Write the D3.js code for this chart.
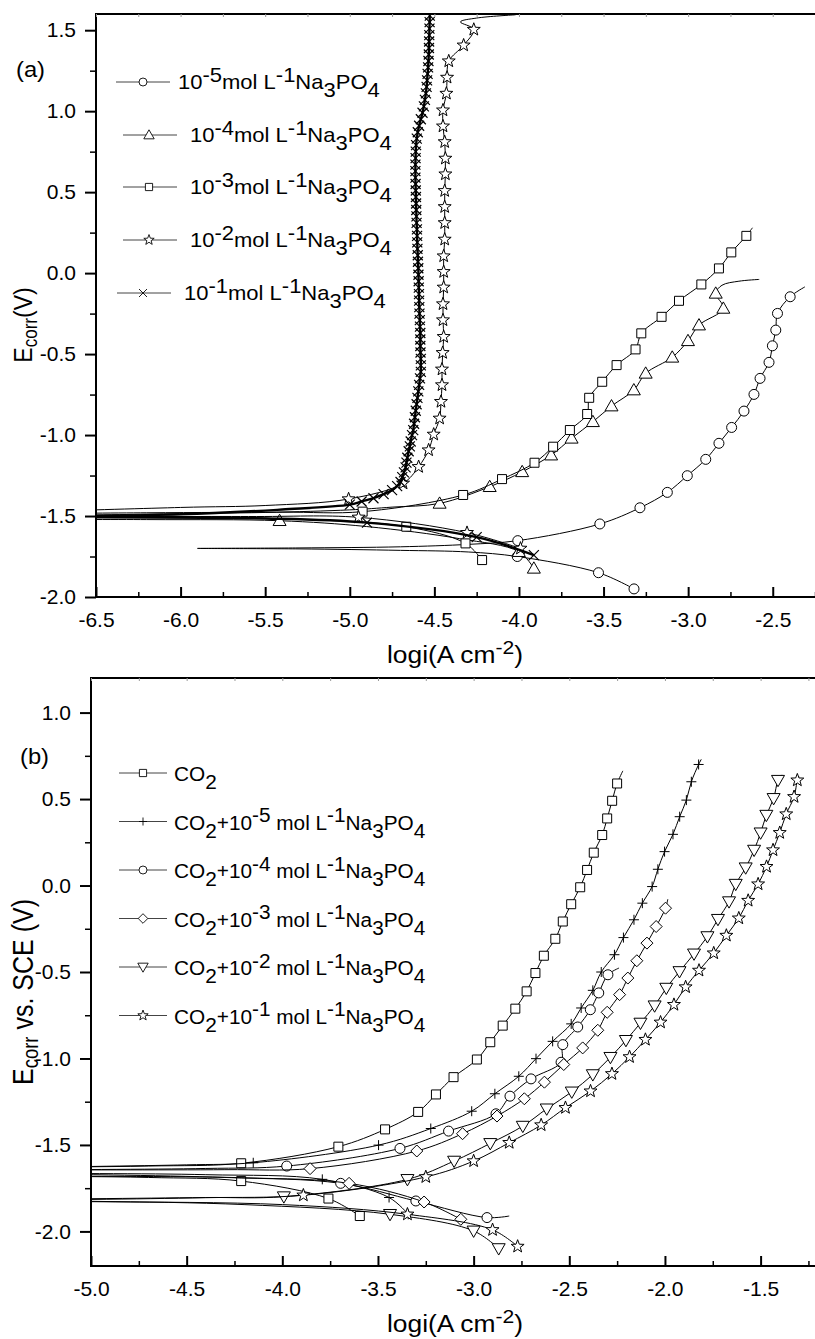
<!DOCTYPE html>
<html>
<head>
<meta charset="utf-8">
<script src="https://cdn.jsdelivr.net/npm/d3@7"></script>
<style>
  body { margin: 0; background: #fff; }
  svg { display: block; }
  text { white-space: pre; }
</style>
</head>
<body>
<svg id="chart" width="815" height="1339"></svg>
<script>
// ---------------------------------------------------------------
// Polarization curves, log i (A cm^-2) vs. potential (V).
// Each trace is a list of runs that alternate: plain line (even
// index) and line with symbols (odd index).
// ---------------------------------------------------------------

// Panel (a): Na3PO4 solutions
const aExponents = ["-5", "-4", "-3", "-2", "-1"];
const aXTicks = [-6.5, -6.0, -5.5, -5.0, -4.5, -4.0, -3.5, -3.0, -2.5];
const aYTicks = [-2.0, -1.5, -1.0, -0.5, 0.0, 0.5, 1.0, 1.5];

const aCircle = [
  [],
  [[-3.32, -1.95], [-3.53, -1.85], [-4.01, -1.75]],
  [[-4.3, -1.722], [-4.7, -1.712], [-5.3, -1.703], [-5.9, -1.70], [-5.3, -1.697], [-4.7, -1.690], [-4.3, -1.675]],
  [[-4.007, -1.652], [-3.522, -1.549], [-3.285, -1.449], [-3.123, -1.354], [-3.005, -1.251], [-2.896, -1.150],
   [-2.818, -1.051], [-2.743, -0.953], [-2.670, -0.852], [-2.611, -0.749], [-2.575, -0.650], [-2.522, -0.551],
   [-2.502, -0.449], [-2.482, -0.352], [-2.472, -0.249], [-2.397, -0.146]],
  [[-2.31, -0.085]]
];

const aTriangle = [
  [],
  [[-3.912, -1.823], [-4.001, -1.720]],
  [[-4.35, -1.64], [-4.9, -1.565]],
  [[-5.415, -1.529]],
  [[-6.2, -1.522], [-7.5, -1.52], [-6.2, -1.488], [-5.5, -1.478], [-5.0, -1.462], [-4.75, -1.445]],
  [[-4.469, -1.422], [-4.173, -1.319], [-3.981, -1.227], [-3.810, -1.124], [-3.689, -1.020], [-3.563, -0.918],
   [-3.453, -0.821], [-3.321, -0.722], [-3.251, -0.619], [-3.094, -0.520], [-3.001, -0.418], [-2.936, -0.321],
   [-2.792, -0.218], [-2.837, -0.125]],
  [[-2.80, -0.075], [-2.70, -0.05], [-2.58, -0.039]]
];

const aSquare = [
  [],
  [[-4.218, -1.772], [-4.316, -1.669], [-4.666, -1.566]],
  [[-5.3, -1.52], [-6.2, -1.50], [-7.5, -1.492], [-6.2, -1.48], [-5.4, -1.476]],
  [[-4.924, -1.473], [-4.330, -1.370], [-4.100, -1.272], [-3.908, -1.171], [-3.798, -1.072], [-3.699, -0.969],
   [-3.597, -0.870], [-3.585, -0.770], [-3.508, -0.671], [-3.423, -0.568], [-3.311, -0.471], [-3.277, -0.372],
   [-3.157, -0.270], [-3.054, -0.171], [-2.922, -0.070], [-2.818, 0.029], [-2.745, 0.128], [-2.656, 0.230]],
  [[-2.62, 0.28]]
];

const aStar = [
  [],
  [[-3.991, -1.700], [-4.307, -1.603], [-4.948, -1.508]],
  [[-5.6, -1.503], [-7.5, -1.50], [-6.0, -1.447], [-5.5, -1.435]],
  [[-5.007, -1.395], [-4.685, -1.298], [-4.593, -1.196], [-4.534, -1.093], [-4.504, -0.996], [-4.469, -0.897],
   [-4.461, -0.794], [-4.455, -0.691], [-4.455, -0.594], [-4.451, -0.492], [-4.445, -0.393], [-4.449, -0.290],
   [-4.449, -0.191], [-4.445, -0.088], [-4.445, 0.008], [-4.445, 0.105], [-4.439, 0.208], [-4.439, 0.310],
   [-4.439, 0.409], [-4.439, 0.508], [-4.435, 0.611], [-4.435, 0.708], [-4.439, 0.810], [-4.449, 0.907],
   [-4.449, 1.006], [-4.429, 1.109], [-4.425, 1.208], [-4.415, 1.309], [-4.327, 1.407], [-4.267, 1.504]],
  [[-4.346, 1.551], [-4.25, 1.575], [-4.02, 1.595]]
];

const aCross = [
  [],
  [[-3.912, -1.741], [-4.25, -1.63], [-4.898, -1.541]],
  [[-5.5, -1.515], [-7.5, -1.505], [-6.0, -1.49], [-5.4, -1.46]],
  [[-5.00, -1.43], [-4.93, -1.41], [-4.86, -1.39], [-4.80, -1.365], [-4.75, -1.34], [-4.72, -1.315],
   [-4.70, -1.29], [-4.69, -1.26], [-4.68, -1.23], [-4.67, -1.20], [-4.665, -1.17], [-4.66, -1.14],
   [-4.652, -1.10], [-4.645, -1.07], [-4.64, -1.04], [-4.632, -1.00], [-4.625, -0.97], [-4.62, -0.93],
   [-4.615, -0.89], [-4.61, -0.85], [-4.605, -0.81], [-4.60, -0.77], [-4.595, -0.73], [-4.59, -0.69],
   [-4.585, -0.65], [-4.58, -0.61], [-4.58, -0.57], [-4.58, -0.53], [-4.582, -0.49], [-4.583, -0.45],
   [-4.583, -0.41], [-4.583, -0.37], [-4.585, -0.33], [-4.586, -0.29], [-4.588, -0.25], [-4.589, -0.21],
   [-4.59, -0.17], [-4.591, -0.13], [-4.592, -0.09], [-4.593, -0.05], [-4.594, -0.01], [-4.595, 0.03],
   [-4.597, 0.07], [-4.598, 0.11], [-4.60, 0.15], [-4.601, 0.19], [-4.602, 0.23], [-4.603, 0.27],
   [-4.605, 0.31], [-4.606, 0.35], [-4.607, 0.39], [-4.608, 0.43], [-4.609, 0.47], [-4.61, 0.51],
   [-4.611, 0.55], [-4.612, 0.59], [-4.612, 0.63], [-4.612, 0.67], [-4.611, 0.71], [-4.61, 0.75],
   [-4.608, 0.79], [-4.604, 0.83], [-4.598, 0.87], [-4.59, 0.91], [-4.58, 0.95], [-4.57, 0.99],
   [-4.562, 1.03], [-4.556, 1.07], [-4.55, 1.11], [-4.546, 1.15], [-4.543, 1.19], [-4.54, 1.23],
   [-4.537, 1.27], [-4.535, 1.31], [-4.533, 1.35], [-4.532, 1.39], [-4.531, 1.43], [-4.53, 1.47],
   [-4.529, 1.51], [-4.528, 1.55], [-4.527, 1.59]],
  []
];

// Panel (b): CO2-saturated solutions with Na3PO4
const bExponents = [null, "-5", "-4", "-3", "-2", "-1"];
const bXTicks = [-5.0, -4.5, -4.0, -3.5, -3.0, -2.5, -2.0, -1.5];
const bYTicks = [-2.0, -1.5, -1.0, -0.5, 0.0, 0.5, 1.0];

const bSquare = [
  [],
  [[-3.595, -1.911], [-3.759, -1.810], [-4.215, -1.709]],
  [[-4.7, -1.688], [-5.5, -1.677], [-6.0, -1.655], [-5.5, -1.633], [-4.7, -1.622]],
  [[-4.215, -1.606], [-3.707, -1.510], [-3.463, -1.410], [-3.290, -1.309], [-3.197, -1.208], [-3.105, -1.108],
   [-2.983, -1.006], [-2.913, -0.906], [-2.848, -0.810], [-2.782, -0.712], [-2.723, -0.612], [-2.677, -0.506],
   [-2.633, -0.406], [-2.573, -0.308], [-2.534, -0.208], [-2.490, -0.108], [-2.443, -0.010], [-2.407, 0.090],
   [-2.372, 0.190], [-2.328, 0.292], [-2.302, 0.388], [-2.276, 0.490], [-2.250, 0.590]],
  [[-2.22, 0.663]]
];

const bPlus = [
  [],
  [[-3.342, -1.901], [-3.442, -1.804], [-3.791, -1.699]],
  [[-4.4, -1.672], [-5.5, -1.662], [-6.0, -1.65], [-5.5, -1.634], [-4.5, -1.615]],
  [[-4.152, -1.603], [-3.497, -1.501], [-3.224, -1.405], [-3.010, -1.305], [-2.889, -1.204], [-2.764, -1.103],
   [-2.674, -1.001], [-2.587, -0.901], [-2.490, -0.800], [-2.438, -0.708], [-2.377, -0.606], [-2.333, -0.500],
   [-2.264, -0.400], [-2.217, -0.301], [-2.162, -0.198], [-2.118, -0.102], [-2.067, -0.006], [-2.037, 0.094],
   [-2.002, 0.196], [-1.958, 0.296], [-1.923, 0.398], [-1.888, 0.494], [-1.862, 0.600], [-1.824, 0.700]],
  [[-1.81, 0.73]]
];

const bCircle = [
  [[-2.814, -1.911]],
  [[-2.930, -1.920], [-3.302, -1.824], [-3.695, -1.722]],
  [[-4.3, -1.688], [-5.5, -1.664], [-6.0, -1.655], [-5.5, -1.646], [-4.4, -1.636]],
  [[-3.977, -1.622], [-3.385, -1.520], [-3.131, -1.420], [-2.883, -1.320], [-2.810, -1.218], [-2.700, -1.118],
   [-2.543, -1.022], [-2.534, -0.920], [-2.456, -0.818], [-2.390, -0.718], [-2.346, -0.621], [-2.298, -0.516]],
  [[-2.24, -0.477]]
];

const bDiamond = [
  [],
  [[-3.067, -1.930], [-3.259, -1.830], [-3.651, -1.722]],
  [[-4.2, -1.69], [-5.5, -1.678], [-6.0, -1.665], [-5.5, -1.648], [-4.3, -1.643]],
  [[-3.855, -1.637], [-3.297, -1.535], [-3.058, -1.435], [-2.878, -1.333], [-2.735, -1.233], [-2.630, -1.137],
   [-2.529, -1.035], [-2.430, -0.939], [-2.351, -0.837], [-2.302, -0.733], [-2.237, -0.631], [-2.194, -0.535],
   [-2.147, -0.435], [-2.094, -0.333], [-2.046, -0.237], [-1.997, -0.131]],
  [[-1.985, -0.079]]
];

const bTriangle = [
  [],
  [[-2.869, -2.099], [-3.0, -1.997], [-3.437, -1.901]],
  [[-4.2, -1.845], [-5.0, -1.826], [-6.0, -1.82], [-5.0, -1.811], [-4.4, -1.804]],
  [[-3.992, -1.799], [-3.346, -1.699], [-3.102, -1.593], [-2.913, -1.491], [-2.743, -1.391], [-2.618, -1.291],
   [-2.487, -1.193], [-2.377, -1.093], [-2.285, -0.993], [-2.204, -0.895], [-2.128, -0.795], [-2.054, -0.695],
   [-1.993, -0.593], [-1.924, -0.497], [-1.848, -0.395], [-1.778, -0.295], [-1.723, -0.195], [-1.665, -0.093],
   [-1.630, 0.008], [-1.578, 0.103], [-1.534, 0.205], [-1.500, 0.305], [-1.470, 0.407], [-1.432, 0.504],
   [-1.409, 0.609]],
  [[-1.39, 0.64]]
];

const bStar = [
  [],
  [[-2.770, -2.087], [-2.901, -1.991], [-3.346, -1.901]],
  [[-4.0, -1.845], [-5.0, -1.828], [-6.0, -1.822], [-5.0, -1.815], [-4.4, -1.805]],
  [[-3.890, -1.791], [-3.250, -1.685], [-3.0, -1.593], [-2.814, -1.487], [-2.647, -1.385], [-2.520, -1.285],
   [-2.389, -1.189], [-2.277, -1.089], [-2.185, -0.991], [-2.102, -0.891], [-2.023, -0.791], [-1.953, -0.689],
   [-1.892, -0.587], [-1.822, -0.491], [-1.745, -0.391], [-1.679, -0.289], [-1.614, -0.189], [-1.565, -0.087],
   [-1.513, 0.008], [-1.469, 0.109], [-1.435, 0.205], [-1.400, 0.305], [-1.366, 0.413], [-1.325, 0.513],
   [-1.308, 0.609]],
  [[-1.30, 0.63]]
];

// ---------------------------------------------------------------
const FONT = 'Arial, "Liberation Sans", Helvetica, sans-serif';
const svg = d3.select("#chart");

function starPath(R, r) {
  let p = "";
  for (let i = 0; i < 10; i++) {
    const a = -Math.PI / 2 + i * Math.PI / 5;
    const rad = i % 2 ? r : R;
    p += (i ? "L" : "M") + (rad * Math.cos(a)).toFixed(2) + "," + (rad * Math.sin(a)).toFixed(2);
  }
  return p + "Z";
}

const SYMBOLS = {
  circle: "M5,0A5,5 0 1,1 -5,0A5,5 0 1,1 5,0Z",
  square: "M-4.5,-4.5H4.5V4.5H-4.5Z",
  triUp: "M0,-6.5L6.5,4.8L-6.5,4.8Z",
  triDown: "M0,6.5L6.5,-4.8L-6.5,-4.8Z",
  diamond: "M0,-6L6,0L0,6L-6,0Z",
  cross: "M-5,-5L5,5M-5,5L5,-5",
  plus: "M-5,0H5M0,-5V5",
  star: starPath(6.8, 2.8)
};

// rich text: parts are [string, kind] with kind 0 normal, 1 superscript, -1 subscript
function rich(textSel, parts, size, scriptScale) {
  let shift = 0;
  parts.forEach(([s, k]) => {
    const target = k === 1 ? -size * 0.36 : k === -1 ? size * 0.42 : 0;
    const t = textSel.append("tspan").attr("dy", target - shift).text(s);
    if (k !== 0 && scriptScale !== 1) t.attr("font-size", size * scriptScale);
    shift = target;
  });
}

function drawSeries(g, runs, symbol, x, y, lineWidth, symbolWidth) {
  const line = d3.line()
    .x(d => x(d[0])).y(d => y(d[1]))
    .curve(d3.curveCatmullRom.alpha(0.5));
  const all = runs.flat();
  g.append("path").attr("d", line(all))
    .attr("fill", "none").attr("stroke", "#000")
    .attr("stroke-width", lineWidth).attr("stroke-linejoin", "round");
  const marked = runs.filter((r, i) => i % 2 === 1).flat();
  g.append("g").selectAll("path").data(marked).join("path")
    .attr("d", SYMBOLS[symbol])
    .attr("transform", d => `translate(${x(d[0])},${y(d[1])})`)
    .attr("fill", "#fff").attr("stroke", "#000").attr("stroke-width", symbolWidth);
}

function panel(cfg) {
  const x = d3.scaleLinear().domain(cfg.xDomain).range([cfg.left, cfg.right]);
  const y = d3.scaleLinear().domain(cfg.yDomain).range([cfg.bottom, cfg.top]);
  const g = svg.append("g");

  g.append("clipPath").attr("id", cfg.id + "-clip")
    .append("rect").attr("x", cfg.left).attr("y", cfg.top)
    .attr("width", cfg.right - cfg.left).attr("height", cfg.bottom - cfg.top);

  const plot = g.append("g").attr("clip-path", `url(#${cfg.id}-clip)`);
  cfg.series.forEach(s => drawSeries(plot, s.runs, s.symbol, x, y, s.lineWidth || 1, s.symbolWidth || 1));

  // frame
  g.append("rect").attr("x", cfg.left).attr("y", cfg.top)
    .attr("width", cfg.right - cfg.left).attr("height", cfg.bottom - cfg.top)
    .attr("fill", "none").attr("stroke", "#000").attr("stroke-width", 2);

  const xMinor = cfg.xTicks.map(v => v + 0.25).filter(v => v <= cfg.xDomain[1] + 1e-9);
  const yMinor = cfg.yTicks.map(v => v + 0.25).filter(v => v <= cfg.yDomain[1] + 1e-9);
  const fmt = d => d.toFixed(1);

  // bottom axis: inward ticks
  g.append("g").attr("transform", `translate(0,${cfg.bottom})`)
    .call(d3.axisBottom(x).tickValues(cfg.xTicks).tickSize(-10).tickSizeOuter(0).tickPadding(15).tickFormat(fmt))
    .call(a => {
      a.attr("font-family", FONT).attr("font-size", 21);
      a.select(".domain").remove();
      a.selectAll("line").attr("stroke-width", 2);
      a.selectAll("text").attr("fill", "#000");
    });
  g.append("g").attr("transform", `translate(0,${cfg.bottom})`)
    .call(d3.axisBottom(x).tickValues(xMinor).tickSize(-5).tickSizeOuter(0).tickFormat(""))
    .call(a => { a.select(".domain").remove(); a.selectAll("line").attr("stroke-width", 1.5); });

  // left axis: outward ticks
  g.append("g").attr("transform", `translate(${cfg.left},0)`)
    .call(d3.axisLeft(y).tickValues(cfg.yTicks).tickSize(11).tickSizeOuter(0).tickPadding(9).tickFormat(fmt))
    .call(a => {
      a.attr("font-family", FONT).attr("font-size", 21);
      a.select(".domain").remove();
      a.selectAll("line").attr("stroke-width", 2);
      a.selectAll("text").attr("fill", "#000");
    });
  g.append("g").attr("transform", `translate(${cfg.left},0)`)
    .call(d3.axisLeft(y).tickValues(yMinor).tickSize(6).tickSizeOuter(0).tickFormat(""))
    .call(a => { a.select(".domain").remove(); a.selectAll("line").attr("stroke-width", 1.5); });

  // faint top ticks
  const topTicks = d3.range(cfg.xDomain[0], cfg.xDomain[1] + 1e-9, 0.25);
  g.append("g").attr("transform", `translate(0,${cfg.top})`)
    .call(d3.axisTop(x).tickValues(topTicks).tickSize(-3).tickSizeOuter(0).tickFormat(""))
    .call(a => { a.select(".domain").remove(); a.selectAll("line").attr("stroke", "#999").attr("stroke-width", 1); });

  // x title
  const xt = g.append("text")
    .attr("transform", `translate(${cfg.xTitle[0]},${cfg.xTitle[1]}) scale(1.1,1)`)
    .attr("text-anchor", "middle").attr("font-family", FONT).attr("font-size", 24);
  rich(xt, [["logi(A cm", 0], ["-2", 1], [")", 0]], 24, 0.8);

  // y title (rotated; glyphs widened across the axis direction)
  const yt = g.append("text")
    .attr("transform", `translate(${cfg.yTitle[0]},${cfg.yTitle[1]}) rotate(-90) scale(1,1.15)`)
    .attr("text-anchor", "middle").attr("font-family", FONT).attr("font-size", cfg.yTitleSize);
  yt.append("tspan").text("E");
  yt.append("tspan").attr("dy", 4).attr("font-size", cfg.yTitleSize * 0.74).text("corr");
  yt.append("tspan").attr("dy", -4).text(cfg.yTitleRest);

  // panel tag
  g.append("text").attr("transform", `translate(${cfg.tag[0]},${cfg.tag[1]}) scale(1.08,1)`)
    .attr("font-family", FONT).attr("font-size", 22).text(cfg.tagText);

  // legend
  cfg.series.forEach((s, i) => {
    const L = cfg.legend(i);
    g.append("line").attr("x1", L.x1).attr("x2", L.x2).attr("y1", L.y).attr("y2", L.y)
      .attr("stroke", "#444").attr("stroke-width", 1);
    g.append("path").attr("d", SYMBOLS[s.symbol])
      .attr("transform", `translate(${L.mx},${L.y}) scale(0.8)`)
      .attr("fill", "#fff").attr("stroke", "#000").attr("stroke-width", 1.1);
    const t = g.append("text")
      .attr("transform", `translate(${L.tx},${L.y + cfg.legendBaseline}) scale(${cfg.legendStretch},1)`)
      .attr("font-family", FONT).attr("font-size", cfg.legendSize);
    rich(t, s.label, cfg.legendSize, 1);
  });
}

// legend labels
const aLabel = e => [["10", 0], [e, 1], ["mol L", 0], ["-1", 1], ["Na", 0], ["3", -1], ["PO", 0], ["4", -1]];
const bLabel = e => e === null
  ? [["CO", 0], ["2", -1]]
  : [["CO", 0], ["2", -1], ["+10", 0], [e, 1], [" mol L", 0], ["-1", 1], ["Na", 0], ["3", -1], ["PO", 0], ["4", -1]];

const aRowsY = [82, 135, 187, 240, 293];
const aLineX1 = [116, 123, 123, 123, 117];
const aMarkX = [143, 149, 149, 149, 143];
const aTextX = [178, 190, 190, 190, 184];

panel({
  id: "pa",
  xDomain: [-6.5, -2.2325], yDomain: [-2.0, 1.6],
  left: 96, right: 818, top: 14, bottom: 597,
  xTicks: aXTicks, yTicks: aYTicks,
  xTitle: [455, 663], yTitle: [32, 325], yTitleRest: "(V)", yTitleSize: 23,
  tag: [16, 77], tagText: "(a)",
  legendSize: 20, legendBaseline: 7, legendStretch: 1.1,
  legend: i => ({ y: aRowsY[i], x1: aLineX1[i], x2: aLineX1[i] + 54, mx: aMarkX[i], tx: aTextX[i] }),
  series: [
    { runs: aCircle, symbol: "circle", label: aLabel(aExponents[0]) },
    { runs: aTriangle, symbol: "triUp", label: aLabel(aExponents[1]) },
    { runs: aSquare, symbol: "square", label: aLabel(aExponents[2]) },
    { runs: aStar, symbol: "star", label: aLabel(aExponents[3]) },
    { runs: aCross, symbol: "cross", label: aLabel(aExponents[4]), lineWidth: 2.4, symbolWidth: 1.2 }
  ]
});

panel({
  id: "pb",
  xDomain: [-5.0, -1.2], yDomain: [-2.2, 1.2],
  left: 91, right: 818, top: 678, bottom: 1266,
  xTicks: bXTicks, yTicks: bYTicks,
  xTitle: [455, 1332], yTitle: [33, 992], yTitleRest: " vs. SCE (V)", yTitleSize: 25,
  tag: [20, 764], tagText: "(b)",
  legendSize: 20, legendBaseline: 8, legendStretch: 1.04,
  legend: i => ({ y: 773 + 48.5 * i, x1: 119, x2: 167, mx: 143, tx: 174 }),
  series: [
    { runs: bSquare, symbol: "square", label: bLabel(bExponents[0]) },
    { runs: bPlus, symbol: "plus", label: bLabel(bExponents[1]) },
    { runs: bCircle, symbol: "circle", label: bLabel(bExponents[2]) },
    { runs: bDiamond, symbol: "diamond", label: bLabel(bExponents[3]) },
    { runs: bTriangle, symbol: "triDown", label: bLabel(bExponents[4]) },
    { runs: bStar, symbol: "star", label: bLabel(bExponents[5]) }
  ]
});
</script>
</body>
</html>
